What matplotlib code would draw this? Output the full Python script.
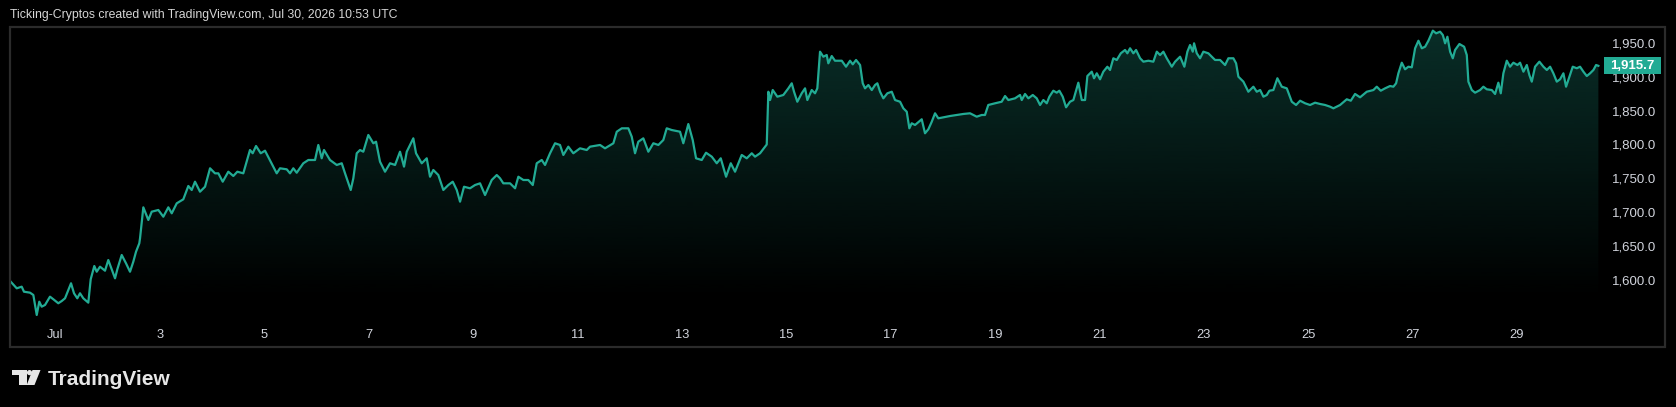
import matplotlib
matplotlib.use('Agg')
import matplotlib.pyplot as plt
import numpy as np
from matplotlib.patches import Rectangle, Polygon, Circle
from matplotlib.transforms import blended_transform_factory

# price history (day of month, July)
days = [
    0.146, 0.261, 0.356, 0.400, 0.515, 0.579, 0.644, 0.693, 0.739, 0.803, 0.898, 0.962,
    1.057, 1.123, 1.186, 1.301, 1.358, 1.421, 1.473, 1.536, 1.632, 1.678, 1.747, 1.793,
    1.856, 1.952, 2.015, 2.067, 2.144, 2.188, 2.272, 2.354, 2.431, 2.494, 2.546, 2.609,
    2.623, 2.686, 2.782, 2.847, 2.973, 3.069, 3.165, 3.230, 3.326, 3.452, 3.548, 3.613,
    3.676, 3.772, 3.868, 3.964, 4.059, 4.123, 4.207, 4.314, 4.410, 4.487, 4.601, 4.729,
    4.781, 4.845, 4.935, 5.017, 5.126, 5.241, 5.304, 5.433, 5.496, 5.559, 5.624, 5.751,
    5.847, 5.975, 6.038, 6.103, 6.147, 6.262, 6.391, 6.487, 6.550, 6.659, 6.709, 6.774,
    6.837, 6.900, 6.996, 7.092, 7.144, 7.220, 7.316, 7.412, 7.508, 7.603, 7.680, 7.732,
    7.858, 7.910, 8.019, 8.115, 8.178, 8.241, 8.337, 8.433, 8.529, 8.613, 8.690, 8.753,
    8.829, 8.944, 9.040, 9.136, 9.232, 9.360, 9.456, 9.519, 9.582, 9.711, 9.807, 9.870,
    9.965, 10.061, 10.146, 10.222, 10.318, 10.381, 10.477, 10.573, 10.668, 10.732, 10.827, 10.923,
    11.051, 11.180, 11.243, 11.435, 11.530, 11.690, 11.755, 11.851, 11.977, 12.042, 12.105, 12.168,
    12.264, 12.360, 12.456, 12.552, 12.647, 12.712, 12.808, 12.967, 13.030, 13.126, 13.210, 13.274,
    13.383, 13.465, 13.575, 13.670, 13.747, 13.849, 13.939, 14.021, 14.149, 14.245, 14.341, 14.404,
    14.500, 14.577, 14.628, 14.659, 14.692, 14.743, 14.831, 14.946, 15.042, 15.107, 15.151, 15.214,
    15.298, 15.362, 15.406, 15.490, 15.553, 15.597, 15.649, 15.712, 15.777, 15.808, 15.873, 15.936,
    16.065, 16.147, 16.224, 16.276, 16.339, 16.416, 16.467, 16.511, 16.575, 16.640, 16.703, 16.747,
    16.799, 16.862, 16.939, 17.023, 17.086, 17.182, 17.245, 17.310, 17.360, 17.405, 17.469, 17.597,
    17.660, 17.724, 17.789, 17.852, 17.915, 18.011, 18.140, 18.268, 18.394, 18.522, 18.650, 18.746,
    18.809, 18.872, 19.001, 19.129, 19.193, 19.256, 19.384, 19.480, 19.513, 19.576, 19.640, 19.724,
    19.800, 19.864, 19.927, 19.992, 20.042, 20.118, 20.183, 20.233, 20.298, 20.362, 20.438, 20.502,
    20.597, 20.663, 20.726, 20.770, 20.854, 20.898, 20.950, 21.013, 21.076, 21.153, 21.204, 21.268,
    21.333, 21.410, 21.492, 21.536, 21.588, 21.651, 21.703, 21.780, 21.843, 21.939, 22.034, 22.100,
    22.163, 22.226, 22.291, 22.387, 22.450, 22.546, 22.628, 22.686, 22.737, 22.789, 22.814, 22.866,
    22.929, 22.992, 23.088, 23.153, 23.216, 23.312, 23.408, 23.471, 23.567, 23.619, 23.663, 23.759,
    23.854, 23.950, 24.015, 24.080, 24.142, 24.207, 24.257, 24.333, 24.410, 24.494, 24.590, 24.686,
    24.768, 24.845, 24.941, 25.036, 25.132, 25.228, 25.324, 25.420, 25.483, 25.611, 25.739, 25.816,
    25.898, 25.994, 26.122, 26.249, 26.314, 26.390, 26.473, 26.568, 26.632, 26.684, 26.728, 26.793,
    26.856, 26.919, 26.985, 27.048, 27.112, 27.177, 27.240, 27.303, 27.388, 27.451, 27.527, 27.579,
    27.623, 27.667, 27.719, 27.770, 27.814, 27.897, 27.987, 28.038, 28.069, 28.134, 28.197, 28.293,
    28.356, 28.421, 28.517, 28.580, 28.643, 28.689, 28.739, 28.804, 28.867, 28.931, 29.008, 29.059,
    29.123, 29.188, 29.237, 29.283, 29.346, 29.429, 29.506, 29.571, 29.634, 29.697, 29.762, 29.825,
    29.889, 29.940, 30.003, 30.068, 30.145, 30.208, 30.272, 30.337, 30.400, 30.464, 30.515, 30.559,
]
prices = [
    1598.2, 1588.5, 1590.9, 1583.5, 1582.1, 1578.7, 1549.3, 1568.8, 1561.5, 1564.0, 1576.2, 1572.4,
    1566.5, 1569.8, 1573.8, 1595.9, 1581.2, 1573.8, 1581.2, 1573.8, 1567.4, 1601.8, 1621.3, 1612.9,
    1620.3, 1614.4, 1630.1, 1619.4, 1603.2, 1616.5, 1637.5, 1625.3, 1612.9, 1627.6, 1642.3, 1654.7,
    1662.1, 1707.6, 1689.0, 1701.2, 1703.7, 1693.8, 1707.6, 1698.8, 1713.5, 1719.4, 1739.0, 1733.1,
    1745.3, 1730.6, 1737.9, 1765.0, 1757.6, 1757.6, 1745.3, 1760.0, 1753.7, 1760.0, 1757.6, 1791.9,
    1787.1, 1797.8, 1787.1, 1790.9, 1774.7, 1757.6, 1765.0, 1763.5, 1757.6, 1765.0, 1758.5, 1772.4,
    1777.2, 1777.2, 1799.3, 1779.7, 1791.9, 1777.2, 1769.9, 1772.4, 1757.6, 1733.1, 1750.3, 1787.1,
    1791.9, 1789.4, 1814.0, 1801.8, 1804.1, 1774.7, 1760.0, 1772.4, 1769.9, 1789.4, 1767.4, 1789.4,
    1809.1, 1787.1, 1772.4, 1779.7, 1752.6, 1762.5, 1755.1, 1733.1, 1740.4, 1745.3, 1733.1, 1715.9,
    1737.9, 1735.6, 1740.4, 1742.9, 1725.7, 1747.8, 1755.1, 1750.3, 1742.9, 1742.9, 1735.6, 1752.6,
    1747.8, 1747.8, 1740.4, 1772.4, 1777.2, 1769.9, 1787.1, 1801.8, 1799.3, 1784.6, 1796.8, 1787.1,
    1794.4, 1791.9, 1796.8, 1799.3, 1794.4, 1801.8, 1818.8, 1823.8, 1823.8, 1811.5, 1787.1, 1804.1,
    1809.1, 1789.4, 1801.8, 1799.3, 1806.6, 1823.8, 1821.3, 1818.8, 1801.8, 1830.1, 1806.6, 1779.7,
    1777.2, 1787.9, 1782.1, 1772.4, 1779.7, 1752.6, 1772.4, 1760.0, 1784.6, 1779.7, 1787.1, 1782.1,
    1787.1, 1794.9, 1800.0, 1877.6, 1865.4, 1880.1, 1870.3, 1872.8, 1882.6, 1890.0, 1877.6, 1862.9,
    1875.3, 1882.6, 1865.4, 1880.1, 1875.3, 1882.6, 1936.5, 1929.1, 1931.6, 1919.4, 1930.1, 1923.2,
    1923.2, 1914.4, 1923.2, 1917.9, 1924.3, 1916.9, 1890.0, 1882.6, 1887.5, 1880.1, 1887.5, 1890.0,
    1877.6, 1867.9, 1875.3, 1877.6, 1865.4, 1862.9, 1853.2, 1848.2, 1823.8, 1831.2, 1828.7, 1837.1,
    1816.5, 1822.4, 1833.5, 1845.9, 1838.5, 1840.0, 1841.9, 1843.4, 1844.9, 1845.9, 1840.9, 1843.4,
    1843.4, 1858.1, 1860.6, 1862.9, 1871.3, 1865.4, 1867.9, 1872.8, 1865.4, 1874.3, 1867.9, 1872.8,
    1867.9, 1858.1, 1865.4, 1860.6, 1870.3, 1879.1, 1876.2, 1879.1, 1870.3, 1854.7, 1862.9, 1865.4,
    1890.9, 1865.4, 1865.4, 1900.7, 1907.1, 1897.4, 1904.7, 1895.9, 1907.1, 1914.4, 1909.6, 1926.8,
    1924.3, 1934.1, 1939.0, 1934.1, 1941.5, 1934.1, 1939.0, 1926.8, 1921.8, 1923.2, 1921.8, 1936.5,
    1931.6, 1936.5, 1926.8, 1914.4, 1921.8, 1929.1, 1914.4, 1936.5, 1946.3, 1936.5, 1948.8, 1934.1,
    1926.8, 1936.5, 1934.1, 1929.1, 1924.3, 1924.3, 1916.9, 1926.8, 1926.8, 1919.4, 1899.7, 1892.4,
    1877.6, 1885.0, 1877.6, 1880.1, 1870.3, 1872.8, 1879.1, 1880.1, 1897.4, 1885.0, 1882.6, 1862.9,
    1858.1, 1864.4, 1860.6, 1858.1, 1861.5, 1859.6, 1858.1, 1855.6, 1853.2, 1858.1, 1866.5, 1864.4,
    1874.3, 1869.4, 1877.6, 1880.1, 1885.0, 1879.1, 1882.6, 1886.0, 1885.0, 1890.0, 1904.7, 1920.3,
    1910.6, 1914.4, 1913.5, 1941.5, 1952.6, 1941.5, 1943.8, 1952.6, 1967.4, 1963.5, 1965.9, 1961.0,
    1948.8, 1958.5, 1936.5, 1926.8, 1939.0, 1947.8, 1943.8, 1931.6, 1892.4, 1880.1, 1876.2, 1880.1,
    1885.0, 1881.2, 1880.1, 1874.3, 1890.9, 1875.3, 1904.7, 1923.2, 1914.4, 1920.3, 1916.9, 1920.3,
    1907.1, 1916.9, 1902.2, 1892.4, 1914.4, 1921.8, 1914.4, 1909.6, 1914.4, 1904.7, 1892.4, 1895.9,
    1904.7, 1885.0, 1899.7, 1914.4, 1912.1, 1914.4, 1907.1, 1900.7, 1904.7, 1909.6, 1916.9, 1915.7,
]
xtick_days = [1, 3, 5, 7, 9, 11, 13, 15, 17, 19, 21, 23, 25, 27, 29]
xtick_labels = ['Jul', '3', '5', '7', '9', '11', '13', '15', '17', '19', '21', '23', '25', '27', '29']
ytick_vals = [1600, 1650, 1700, 1750, 1800, 1850, 1900, 1950]
last_price = prices[-1]

W, H = 1676, 407
LINE = '#22ab94'
TXT = '#d1d4dc'
BG = '#000000'

plt.rcParams['font.family'] = ['Liberation Sans', 'DejaVu Sans']

fig = plt.figure(figsize=(W / 100, H / 100), dpi=100, facecolor=BG)

# main pane: x 10..1600 px, y 27..320 px
ax = fig.add_axes([10 / W, 1 - 320 / H, 1590 / W, 293 / H])
ax.set_facecolor(BG)
for s in ax.spines.values():
    s.set_visible(False)

XLIM = (0.132, 30.59)
YLIM = (1541.9, 1972.8)

# area gradient clipped under the line
grad_top, grad_bot = 1968.0, 1571.0
n = 256
rgba = np.zeros((n, 1, 4))
rgba[..., 0], rgba[..., 1], rgba[..., 2] = 34 / 255, 171 / 255, 148 / 255
rgba[:, 0, 3] = np.linspace(0.0, 0.27, n)
im = ax.imshow(rgba, extent=[days[0], days[-1], grad_bot, grad_top],
               origin='lower', aspect='auto', interpolation='bilinear', zorder=1)
verts = [(days[0], YLIM[0])] + list(zip(days, prices)) + [(days[-1], YLIM[0])]
clip = Polygon(verts, closed=True, facecolor='none', edgecolor='none')
ax.add_patch(clip)
im.set_clip_path(clip)

ax.plot(days, prices, color=LINE, lw=1.6, zorder=3, solid_joinstyle='round')
ax.set_xlim(*XLIM)
ax.set_ylim(*YLIM)

ax.set_xticks(xtick_days)
ax.set_xticklabels(xtick_labels)
ax.yaxis.tick_right()
ax.set_yticks(ytick_vals)
ax.set_yticklabels([f'{v:,.1f}' for v in ytick_vals])
ax.tick_params(axis='x', length=0, pad=6.5, labelsize=9.3, colors=TXT)
ax.tick_params(axis='y', length=0, pad=8.5, labelsize=9.5, colors=TXT)

# last price tag
bt = blended_transform_factory(ax.transAxes, ax.transData)
ax.add_patch(Rectangle((1594 / 1590, last_price - 12.5), 57 / 1590, 25,
                       transform=bt, facecolor=LINE, edgecolor='none',
                       clip_on=False, zorder=6))
ax.text(1622.5 / 1590, last_price, f'{last_price:,.1f}', transform=bt,
        ha='center', va='center', fontsize=9.5, color='white',
        fontweight='bold', zorder=7, clip_on=False)

# overlay in pixel coordinates for frame, header and logo
ov = fig.add_axes([0, 0, 1, 1], zorder=5)
ov.set_xlim(0, W)
ov.set_ylim(H, 0)
ov.axis('off')
ov.patch.set_alpha(0)
ov.add_patch(Rectangle((10, 27), 1655, 320, facecolor='none',
                       edgecolor='#2b2b2b', lw=1.6))

ov.text(10, 15, 'Ticking-Cryptos created with TradingView.com, Jul 30, 2026 10:53 UTC',
        ha='left', va='center', fontsize=8.8, color='#d6d6d6')

LOGO = '#e6e6e6'
ov.add_patch(Polygon([(12.3, 370), (26.7, 370), (26.7, 385), (19.3, 385),
                      (19.3, 375.3), (12.3, 375.3)], closed=True,
                     facecolor=LOGO, edgecolor='none'))
ov.add_patch(Circle((29.5, 372.6), 2.6, facecolor=LOGO, edgecolor='none'))
ov.add_patch(Polygon([(32.5, 370), (40.5, 370), (34.5, 385), (26.7, 385)],
                     closed=True, facecolor=LOGO, edgecolor='none'))
ov.text(48, 385, 'TradingView', ha='left', va='baseline', fontsize=15,
        fontweight='bold', color=LOGO)

fig.savefig('out.png', dpi=100, facecolor=BG)
